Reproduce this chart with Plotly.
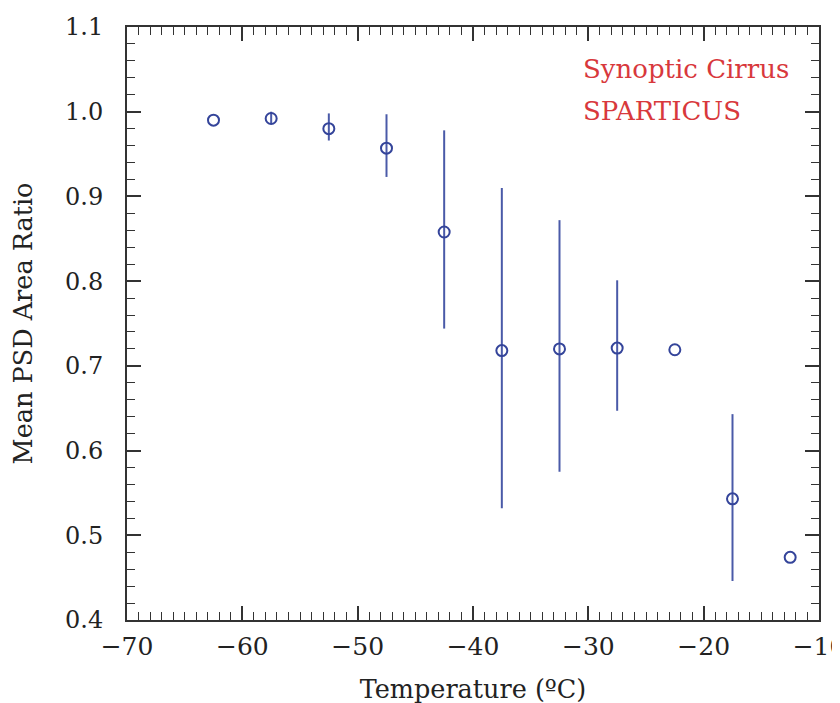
import plotly.graph_objects as go

temperature = [-62.5, -57.5, -52.5, -47.5, -42.5, -37.5, -32.5, -27.5, -22.5, -17.5, -12.5]
area_ratio = [0.990, 0.992, 0.980, 0.957, 0.858, 0.718, 0.720, 0.721, 0.719, 0.543, 0.474]
err_upper = [0.000, 0.008, 0.018, 0.040, 0.120, 0.192, 0.152, 0.080, 0.000, 0.100, 0.000]
err_lower = [0.000, 0.006, 0.014, 0.034, 0.114, 0.186, 0.145, 0.074, 0.000, 0.097, 0.000]

x_ticks = [-70, -60, -50, -40, -30, -20, -10]
y_ticks = [0.4, 0.5, 0.6, 0.7, 0.8, 0.9, 1.0, 1.1]
labels = ["Synoptic Cirrus", "SPARTICUS"]

blue = "#34449a"
red = "#d8383c"
axis_color = "#333333"

fig = go.Figure()
fig.add_trace(go.Scatter(
    x=temperature, y=area_ratio, mode="markers",
    marker=dict(symbol="circle-open", size=11, color=blue, line=dict(width=2, color=blue)),
    error_y=dict(type="data", symmetric=False, array=err_upper, arrayminus=err_lower,
                 width=0, thickness=2, color="#4a5aa8"),
    showlegend=False,
))

x_tick_font = dict(family="DejaVu Serif", size=25, color="#222222")
y_tick_font = dict(family="DejaVu Serif", size=24, color="#222222")
title_font = dict(family="DejaVu Serif", size=25.5, color="#222222")

fig.update_xaxes(
    range=[-70, -10], tickvals=x_ticks, ticktext=["\u2212" + str(abs(v)) for v in x_ticks],
    ticks="inside", ticklen=14, tickwidth=1.5, tickcolor=axis_color,
    minor=dict(dtick=1, ticks="inside", ticklen=8, tickwidth=1.2, tickcolor=axis_color),
    showline=True, linecolor=axis_color, linewidth=2, mirror="allticks",
    showgrid=False, zeroline=False, tickfont=x_tick_font, automargin=False,
    title=dict(text="Temperature (\u00baC)", font=title_font, standoff=20),
    ticklabelstandoff=3,
)
fig.update_yaxes(
    range=[0.4, 1.1], tickvals=y_ticks, ticktext=[f"{v:.1f}" for v in y_ticks],
    ticks="inside", ticklen=14, tickwidth=1.5, tickcolor=axis_color,
    minor=dict(dtick=0.02, ticks="inside", ticklen=8, tickwidth=1.2, tickcolor=axis_color),
    showline=True, linecolor=axis_color, linewidth=2, mirror="allticks",
    showgrid=False, zeroline=False, tickfont=y_tick_font, automargin=False,
    title=dict(text="Mean PSD Area Ratio", font=title_font, standoff=25),
    ticklabelstandoff=17,
)

for i, txt in enumerate(labels):
    fig.add_annotation(
        x=0.656, y=0.929 - i * 0.071, xref="paper", yref="paper",
        xanchor="left", yanchor="middle", text=txt, showarrow=False,
        font=dict(family="DejaVu Serif", size=26, color=red),
    )

fig.update_layout(
    width=840, height=703,
    margin=dict(l=119, r=29, t=19, b=91),
    paper_bgcolor="white", plot_bgcolor="white",
)

fig.write_html("out.html")
